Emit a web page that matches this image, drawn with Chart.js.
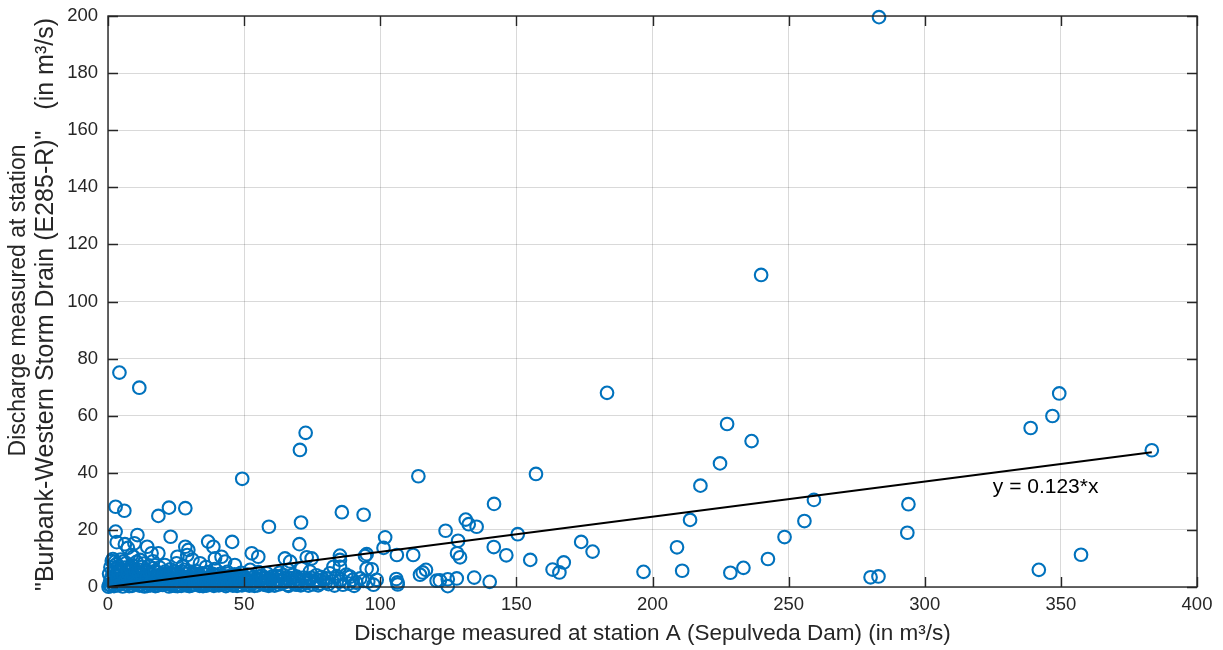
<!DOCTYPE html>
<html>
<head>
<meta charset="utf-8">
<script src="https://cdn.jsdelivr.net/npm/chart.js@4/dist/chart.umd.min.js"></script>
<style>
  html, body { margin: 0; padding: 0; background: #fff; }
  .wrap { width: 1223px; height: 650px; position: relative; }
</style>
</head>
<body>
<div class="wrap"><canvas id="dischargeChart"></canvas></div>
<script>
// scattered readings (station A, Burbank-Western)
const sparseA = [383.4, 349.4, 346.9, 338.9, 341.9, 357.4, 294.0, 293.6, 280.1, 283.0,
  259.3, 255.8, 248.5, 242.4, 233.4, 228.6, 227.4, 236.4, 224.8, 217.6,
  213.8, 209.0, 210.9, 196.7, 283.2, 239.9, 183.3, 157.2, 173.8, 178.0,
  167.4, 163.3, 165.8, 155.1, 150.5, 141.8, 141.7, 146.3, 131.4, 132.5,
  135.4, 124.0, 128.6, 128.2, 129.3, 114.0, 101.8, 101.2, 106.1, 112.1,
  105.9, 106.3, 114.6, 115.6, 116.8, 120.7, 121.9, 124.8, 124.8, 128.1,
  134.5, 140.2, 72.6, 70.5, 49.3, 2.8, 6.0, 18.5, 22.4, 28.4,
  59.1, 70.9, 85.9, 93.9, 4.2, 11.5, 2.8, 3.2, 6.2, 10.8,
  9.7, 8.7, 9.3, 14.4, 16.0, 18.5, 23.0, 25.5, 28.4, 29.5,
  29.1, 36.8, 38.7, 45.6, 39.3, 41.7, 43.0, 46.6, 33.8, 25.2,
  20.9, 2.6, 5.6, 11.8, 70.3, 52.8, 55.2, 65.0, 66.9, 73.0,
  74.8, 85.2, 85.2, 94.4, 95.0, 96.9, 95.6, 88.9, 89.9, 85.2,
  81.5, 80.3, 76.6, 74.2, 71.1, 69.3, 66.2, 63.2, 60.7, 58.3,
  55.8, 52.2, 49.7, 47.3, 98.7, 82.8, 95.0, 7.3, 1.8, 13.0,
  16.5, 27.5, 31.0, 36.0, 106.4, 85.2];
const sparseB = [47.9, 67.8, 59.9, 55.7, 6.0, 11.3, 29.0, 19.0, 3.4, 3.7,
  30.5, 23.1, 17.5, 9.8, 6.7, 5.0, 57.1, 51.1, 43.3, 35.5,
  23.5, 13.9, 5.7, 5.3, 199.6, 109.3, 68.0, 39.6, 15.8, 12.4,
  8.6, 6.1, 5.1, 9.5, 18.5, 29.1, 14.0, 11.1, 23.6, 22.0,
  21.1, 19.7, 16.2, 11.8, 10.4, 38.8, 17.4, 13.7, 11.2, 11.2,
  2.8, 1.6, 4.3, 5.1, 6.0, 2.2, 2.3, 2.7, 0.3, 3.0,
  3.3, 1.8, 54.0, 48.0, 37.9, 28.1, 26.7, 24.9, 27.8, 27.6,
  21.1, 22.6, 26.2, 25.3, 75.1, 69.8, 19.4, 15.7, 15.0, 18.2,
  15.3, 11.2, 10.6, 14.1, 11.8, 11.8, 17.6, 10.6, 14.1, 13.0,
  11.2, 15.9, 14.1, 15.8, 10.0, 10.6, 8.9, 7.7, 8.3, 8.3,
  7.7, 8.9, 8.9, 9.5, 15.0, 11.8, 10.6, 10.0, 8.9, 10.4,
  10.0, 11.0, 9.5, 10.9, 6.5, 6.2, 1.9, 3.6, 2.5, 1.9,
  4.8, 3.0, 2.5, 5.4, 6.5, 3.6, 6.0, 3.6, 1.9, 4.8,
  3.6, 6.0, 3.0, 4.2, 2.5, 7.1, 11.5, 13.7, 9.8, 8.2,
  9.0, 7.4, 9.6, 7.0, 0.9, 7.1];

// low-flow days packed near the origin
const denseA = [0.2, 0.5, 0.8, 1.1, 1.3, 1.6, 1.9, 2.2, 2.4, 2.7, 3.0, 3.3, 3.6, 3.9, 4.2, 4.5, 4.8, 5.1, 5.4,
  5.8, 6.1, 6.5, 6.9, 7.3, 7.6, 8.0, 8.4, 8.8, 9.1, 9.5, 9.9,
  10.3, 10.7, 11.2, 11.6, 12.0, 12.5, 12.9, 13.4, 13.8, 14.3, 14.7,
  15.2, 15.6, 16.1, 16.5, 17.0, 17.4, 17.9, 18.3, 18.8, 19.2, 19.7,
  20.1, 20.6, 21.0, 21.5, 22.0, 22.4, 22.9, 23.3, 23.8, 24.3, 24.7,
  25.2, 25.7, 26.1, 26.6, 27.1, 27.5, 28.0, 28.5, 29.0, 29.4, 29.9,
  30.4, 30.9, 31.3, 31.8, 32.3, 32.8, 33.3, 33.7, 34.2, 34.7,
  35.2, 35.7, 36.2, 36.7, 37.2, 37.7, 38.2, 38.7, 39.2, 39.7,
  40.2, 40.7, 41.2, 41.7, 42.3, 42.8, 43.3, 43.8, 44.3, 44.8,
  45.4, 45.9, 46.5, 47.1, 47.7, 48.3, 48.9, 49.5,
  50.1, 50.8, 51.5, 52.3, 53.0, 53.8, 54.5, 55.3, 56.1, 56.9, 57.7, 58.6, 59.4,
  60.3, 61.2, 62.1, 63.0, 64.0, 64.9, 65.9, 66.8, 67.8, 68.7, 69.7,
  70.8, 71.9, 73.0, 74.1, 75.3, 76.5, 77.8, 79.0,
  81.0, 82.4, 84.0, 86.3, 87.5, 91.2, 92.6];
const denseB = [0.1, 0.8, 2.1, 0.4, 3.5, 1.2, 5.2, 0.3, 2.6, 6.4, 1.5, 4.1, 0.6, 7.2, 2.9, 1.0, 5.5, 3.2, 0.2,
  1.8, 6.8, 4.4, 0.9, 2.7, 5.9, 1.4, 3.8, 0.4, 7.5, 2.2, 4.9,
  1.1, 3.3, 6.1, 0.5, 2.4, 4.6, 1.7, 0.2, 3.9, 5.7, 1.3,
  2.8, 0.6, 4.3, 6.6, 1.9, 0.3, 3.4, 5.1, 1.0, 2.5, 4.0,
  0.7, 2.9, 5.4, 1.6, 3.7, 0.2, 6.2, 2.1, 4.5, 1.2, 0.4,
  3.1, 5.0, 1.8, 0.6, 3.9, 2.3, 6.0, 1.0, 4.6, 2.7, 0.3,
  1.9, 4.2, 0.8, 2.9, 5.6, 1.4, 3.5, 0.4, 2.4, 4.8,
  1.1, 3.0, 0.5, 5.2, 2.0, 3.8, 0.9, 2.6, 6.3, 1.5,
  3.3, 0.6, 4.6, 2.2, 1.0, 3.6, 0.3, 5.3, 2.0, 1.2,
  3.0, 0.5, 4.4, 1.8, 2.9, 0.8, 5.0, 1.6,
  3.4, 0.9, 2.3, 4.1, 1.2, 0.4, 2.8, 5.2, 1.5, 3.1, 0.7, 2.2, 1.0,
  3.6, 0.5, 2.5, 5.0, 1.3, 3.0, 0.8, 2.1, 4.2, 1.0, 2.8,
  0.6, 3.3, 1.5, 2.4, 0.9, 4.1, 1.2, 2.6,
  1.0, 2.1, 3.8, 0.8, 4.3, 1.5, 3.0];

// more low-flow days in between
const fillA = [0.4, 0.9, 1.4, 2.0, 2.5, 3.1, 3.5, 4.0, 4.6, 5.0, 5.6, 6.3, 6.7, 7.1, 7.8, 8.2, 8.6, 9.3, 9.7,
  10.1, 10.5, 10.9, 11.4, 11.9, 12.3, 12.7, 13.2, 13.6, 14.1, 14.5, 14.9, 15.4, 15.9, 16.3, 16.8, 17.2, 17.7, 18.1, 18.6, 19.0, 19.5, 19.9,
  20.4, 20.8, 21.3, 21.8, 22.2, 22.7, 23.1, 23.6, 24.0, 24.5, 25.0, 25.5, 25.9, 26.4, 26.9, 27.3, 27.8, 28.3, 28.7, 29.2, 29.7,
  30.1, 30.6, 31.1, 31.6, 32.0, 32.5, 33.0, 33.5, 34.0, 34.4, 34.9, 35.4, 35.9, 36.4, 36.9, 37.4, 37.9, 38.4, 38.9, 39.4, 39.9,
  40.4, 40.9, 41.4, 41.9, 42.5, 43.0, 43.5, 44.0, 44.6, 45.1, 45.7, 46.2, 46.8, 47.4, 48.0, 48.6, 49.2, 49.8,
  50.5, 51.2, 51.9, 52.7, 53.4, 54.2, 54.9, 55.7, 56.5, 57.3, 58.1, 59.0, 59.9, 60.8, 61.7, 62.6, 63.5, 64.4, 65.4, 66.3,
  67.3, 68.2, 69.2, 70.2, 71.3, 72.5, 73.6, 74.7, 75.9, 77.2, 78.4, 80.0, 83.2, 85.6, 88.5, 90.4, 93.8, 97.5];
const fillB = [4.6, 6.9, 9.1, 1.9, 4.2, 8.0, 2.5, 5.1, 9.6, 1.4, 4.0, 2.3, 8.4, 5.3, 0.3, 6.6, 2.9, 4.4, 1.0,
  5.8, 8.8, 2.1, 4.5, 1.0, 7.0, 3.1, 5.2, 1.9, 3.3, 0.4, 7.4, 4.8, 2.0, 0.9, 3.0, 5.6, 2.2, 0.5, 4.2, 6.8, 1.5, 3.1,
  4.6, 1.2, 2.2, 4.1, 1.0, 3.0, 5.0, 0.5, 2.8, 5.6, 1.6, 0.3, 4.1, 2.6, 0.4, 5.3, 1.4, 3.2, 0.6, 1.8, 5.4,
  3.2, 0.5, 2.3, 4.8, 0.9, 3.0, 1.9, 4.5, 1.0, 3.2, 0.3, 2.2, 4.4, 1.5, 0.8, 3.2, 1.8, 4.6, 0.4, 2.8, 4.2,
  1.6, 2.4, 0.9, 3.9, 2.4, 1.3, 2.7, 0.7, 3.8, 1.6, 2.2, 0.9, 3.1, 0.4, 4.1, 2.2, 0.6, 3.7,
  2.0, 4.3, 0.5, 2.2, 3.4, 1.6, 0.6, 2.4, 4.0, 1.1, 3.2, 0.4, 2.6, 1.5, 3.8, 0.9, 2.1, 4.2, 1.8, 0.4,
  3.1, 2.0, 0.8, 1.9, 0.9, 2.3, 0.5, 3.2, 1.8, 0.6, 3.5, 1.6, 0.5, 2.6, 1.2, 0.4, 2.1, 0.8];

// least-squares fit through the origin
const slope = 0.123;
const fitLabel = 'y = 0.123*x';

const xTicksStep = 50;
const yTicksStep = 20;

const yTitleLines = ['Discharge measured at station', '"Burbank-Western Storm Drain (E285-R)"   (in m³/s)'];

const allA = sparseA.concat(denseA, fillA);
const allB = sparseB.concat(denseB, fillB);
const points = allA.map((a, i) => ({ x: a, y: allB[i] }));
const xMaxData = Math.max(...allA);
const fitLine = [{ x: 0, y: 0 }, { x: xMaxData, y: slope * xMaxData }];

const textColor = '#262626';
const fontFamily = '"Liberation Sans", Arial, sans-serif';

// MATLAB-like frame: box, inward ticks on all four sides, fit label, y title
const frame = {
  id: 'frame',
  afterDatasetsDraw(chart) {
    const { ctx, chartArea: a, scales: { x, y } } = chart;
    ctx.save();
    ctx.strokeStyle = '#262626';
    ctx.lineWidth = 1.4;
    ctx.beginPath();
    x.ticks.forEach(t => {
      const px = Math.round(x.getPixelForValue(t.value)) + 0.5;
      ctx.moveTo(px, a.bottom); ctx.lineTo(px, a.bottom - 10);
      ctx.moveTo(px, a.top); ctx.lineTo(px, a.top + 10);
    });
    y.ticks.forEach(t => {
      const py = Math.round(y.getPixelForValue(t.value)) + 0.5;
      ctx.moveTo(a.left, py); ctx.lineTo(a.left + 10, py);
      ctx.moveTo(a.right, py); ctx.lineTo(a.right - 10, py);
    });
    ctx.stroke();
    ctx.strokeRect(a.left, a.top, a.right - a.left, a.bottom - a.top);

    ctx.fillStyle = '#000';
    ctx.font = '21px ' + fontFamily;
    ctx.textAlign = 'left';
    ctx.textBaseline = 'middle';
    ctx.fillText(fitLabel, x.getPixelForValue(325), y.getPixelForValue(35));

    // two-line rotated y title
    const midY = (a.top + a.bottom) / 2;
    ctx.fillStyle = textColor;
    ctx.textAlign = 'center';
    ctx.translate(0, midY);
    ctx.rotate(-Math.PI / 2);
    ctx.font = '23px ' + fontFamily;
    ctx.fillText(yTitleLines[0], 1, 19);
    ctx.font = '25px ' + fontFamily;
    ctx.fillText(yTitleLines[1], -3, 46);
    ctx.restore();
  }
};

new Chart(document.getElementById('dischargeChart'), {
  type: 'scatter',
  data: {
    datasets: [{
      type: 'line',
      data: fitLine,
      borderColor: '#000',
      borderWidth: 2,
      pointRadius: 0,
      fill: false,
      clip: false
    }, {
      data: points,
      pointStyle: 'circle',
      pointRadius: 6.3,
      pointHoverRadius: 6.3,
      borderColor: '#0072BD',
      backgroundColor: 'rgba(0,0,0,0)',
      borderWidth: 2.1,
      clip: false
    }]
  },
  plugins: [frame],
  options: {
    responsive: true,
    maintainAspectRatio: false,
    animation: false,
    layout: { autoPadding: false, padding: { top: 16, right: 26, left: 0, bottom: 0 } },
    plugins: {
      legend: { display: false },
      tooltip: { enabled: false }
    },
    scales: {
      x: {
        type: 'linear',
        min: 0,
        max: 400,
        ticks: {
          stepSize: xTicksStep,
          color: textColor,
          padding: 7,
          maxRotation: 0,
          font: { family: fontFamily, size: 18.5 }
        },
        grid: { color: 'rgba(0,0,0,0.15)', lineWidth: 1, drawTicks: false },
        border: { display: false },
        title: {
          display: true,
          text: 'Discharge measured at station A (Sepulveda Dam) (in m³/s)',
          color: textColor,
          padding: { top: 2, bottom: 3 },
          font: { family: fontFamily, size: 22.5, lineHeight: 1.2 }
        },
        afterFit(scale) {
          scale.height = 63;
          scale.paddingLeft = 0;
          scale.paddingRight = 0;
        }
      },
      y: {
        type: 'linear',
        min: 0,
        max: 200,
        ticks: {
          stepSize: yTicksStep,
          color: textColor,
          padding: 10,
          font: { family: fontFamily, size: 18.5 }
        },
        grid: { color: 'rgba(0,0,0,0.15)', lineWidth: 1, drawTicks: false },
        border: { display: false },
        title: { display: false },
        afterFit(scale) {
          scale.width = 108;
          scale.paddingTop = 0;
          scale.paddingBottom = 0;
        }
      }
    }
  }
});
</script>
</body>
</html>
